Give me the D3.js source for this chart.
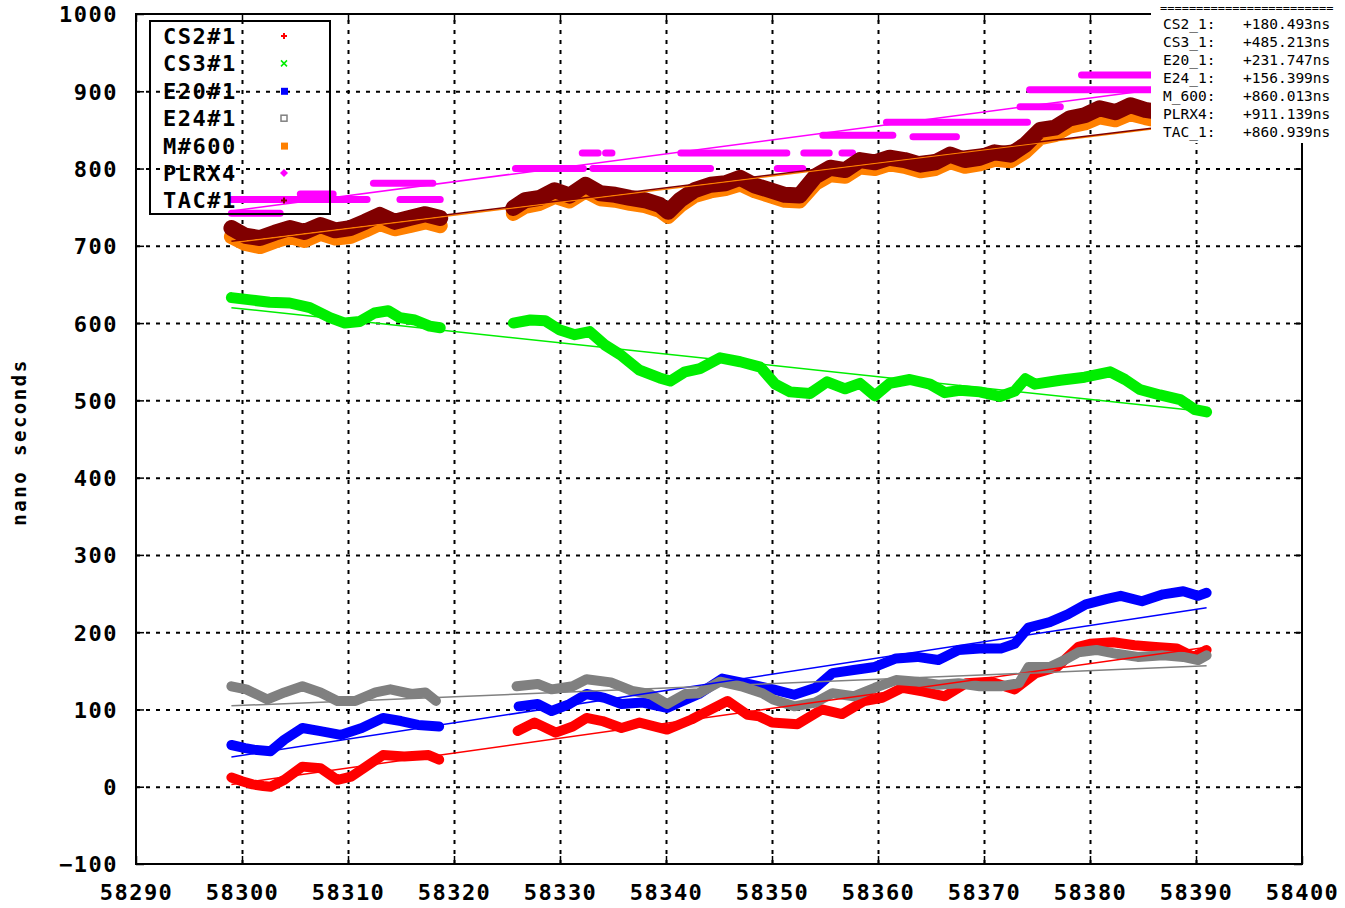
<!DOCTYPE html>
<html>
<head>
<meta charset="utf-8">
<script src="https://cdn.jsdelivr.net/npm/d3@7/dist/d3.min.js"></script>
<style>
body { margin: 0; background: #fff; }
text { font-family: "DejaVu Sans Mono", monospace; }
</style>
</head>
<body>
<svg id="chart"></svg>
<script>
// tick values
const xTicks = [58290, 58300, 58310, 58320, 58330, 58340, 58350, 58360, 58370, 58380, 58390, 58400];
const yTicks = [-100, 0, 100, 200, 300, 400, 500, 600, 700, 800, 900, 1000];

// series, [MJD, ns]; null marks the gap in the data
const cs2 = [[58299,12],[58300,7],[58301,3],[58302,1],[58302.7,0],[58304,9],[58305.7,26],[58307.4,24],[58309,9],[58310.3,13],[58311.7,26],[58313.3,41],[58315.3,39],[58317.6,41],[58318.6,35],
  [58322,null],
  [58326,72],[58327.6,83],[58329.6,70],[58331.2,78],[58332.5,89],[58334,85],[58335.8,76],[58337.5,83],[58340.1,74],[58342.4,87],[58343.5,95],[58345.8,111],[58347.7,93],[58348.8,91],[58350,83],[58352.4,81],[58354.7,100],[58356.6,94],[58358.7,111],[58360.4,115],[58362.3,128],[58364.3,123],[58366.3,117],[58368.3,134],[58370.6,136],[58372.9,126],[58374.9,147],[58376.9,155],[58378.9,181],[58380,185],[58382.2,187],[58384.2,183],[58386.2,181],[58388.2,179],[58389.8,168],[58391,177]];

const cs3 = [[58299,633],[58300.8,630],[58302.6,627],[58304.5,626],[58306.4,620],[58308.3,607],[58309.7,600],[58311.1,602],[58312.5,613],[58313.8,616],[58314.9,607],[58316.3,604],[58317.7,596],[58318.7,594],
  [58322,null],
  [58325.6,600],[58327.2,604],[58328.6,603],[58330,591],[58331.4,585],[58332.8,589],[58334.2,572],[58335.7,559],[58337.5,539],[58339.4,529],[58340.4,525],[58341.8,537],[58343.2,541],[58345.1,555],[58347,550],[58348.9,543],[58350.3,521],[58351.7,511],[58353.6,509],[58355.2,524],[58356.9,515],[58358.3,522],[58359.7,506],[58361.1,522],[58363,527],[58364.9,521],[58366.3,510],[58367.7,513],[58369.6,511],[58371.5,505],[58372.9,512],[58373.9,528],[58374.8,521],[58377.2,526],[58379.5,530],[58381.9,537],[58383.3,527],[58384.7,514],[58386.6,507],[58388.5,501],[58389.9,488],[58391,485]];

const e20 = [[58299,54],[58300.3,50],[58301.1,48],[58302.7,46],[58304,61],[58305.7,76],[58307.4,72],[58309.3,67],[58311.3,76],[58313.3,89],[58315,85],[58316.6,80],[58318.6,78],
  [58322,null],
  [58326.1,104],[58327.9,107],[58329.2,98],[58330.9,107],[58332.5,120],[58334.2,115],[58335.8,107],[58337.8,109],[58340.1,102],[58343.1,120],[58345.3,140],[58348.1,132],[58350.1,126],[58352.1,119],[58354.1,128],[58355.7,147],[58357.7,151],[58359.7,155],[58361.7,166],[58363.7,168],[58365.7,164],[58367.6,177],[58369.6,179],[58371.6,179],[58372.9,185],[58374.2,206],[58376.2,213],[58377.9,223],[58379.6,236],[58381.6,243],[58382.9,247],[58384.9,240],[58386.9,249],[58388.8,253],[58390.2,247],[58391,251]];

const e24 = [[58299,130],[58300.4,126],[58302.4,113],[58304,122],[58305.7,130],[58307.4,122],[58309,111],[58310.7,111],[58312.6,122],[58314,126],[58316,120],[58317.3,122],[58318.3,111],
  [58322,null],
  [58325.9,130],[58327.9,133],[58329.2,126],[58331.2,130],[58332.5,139],[58334.8,135],[58336.8,124],[58338.5,120],[58340.1,107],[58341.8,120],[58343.1,121],[58345.1,136],[58347.1,130],[58349.1,121],[58350.1,113],[58352.1,104],[58354.1,109],[58355.7,121],[58357.7,117],[58359.7,128],[58361.7,138],[58363.7,136],[58365.7,132],[58367.6,134],[58369.6,130],[58371.6,130],[58373.3,134],[58374.2,155],[58376.2,155],[58377.6,164],[58378.9,174],[58380.6,177],[58382.5,172],[58384.5,168],[58386.9,170],[58388.8,168],[58390.2,164],[58391,170]];

const m600 = [[58299,712],[58300.3,703],[58301.7,699],[58303.1,706],[58304.5,712],[58305.9,707],[58307.4,716],[58308.8,710],[58310.2,712],[58311.6,720],[58313,729],[58314.4,722],[58315.8,726],[58317.3,731],[58318.7,726],
  [58322,null],
  [58325.6,742],[58326.7,751],[58328.1,755],[58329.5,764],[58330.9,758],[58332.4,771],[58333.8,761],[58335.2,759],[58336.6,755],[58338,752],[58339.4,746],[58340.2,738],[58341.3,752],[58342.7,765],[58344.2,771],[58345.6,774],[58347,780],[58348.4,771],[58349.8,765],[58351.2,759],[58352.6,758],[58354.1,781],[58355.5,792],[58356.9,790],[58358.3,802],[58359.7,800],[58361.1,806],[58362.5,803],[58364,797],[58365.4,800],[58366.8,809],[58368.2,803],[58369.6,806],[58371,812],[58372.5,810],[58373.9,822],[58375.3,840],[58376.7,844],[58378.1,855],[58379.5,859],[58380.9,867],[58382.4,863],[58383.8,871],[58385.2,866],[58386.6,862],[58388.5,865],[58391,860]];

const tac = [[58299,723],[58300.3,713],[58301.7,710],[58303.1,717],[58304.5,723],[58305.9,718],[58307.4,727],[58308.8,720],[58310.2,723],[58311.6,731],[58313,740],[58314.4,731],[58315.8,736],[58317.3,741],[58318.7,736],
  [58322,null],
  [58325.6,749],[58326.7,759],[58328.1,762],[58329.5,772],[58330.9,765],[58332.4,779],[58333.8,768],[58335.2,766],[58336.6,762],[58338,759],[58339.4,753],[58340.2,744],[58341.3,759],[58342.7,772],[58344.2,779],[58345.6,781],[58347,788],[58348.4,778],[58349.8,772],[58351.2,766],[58352.6,765],[58354.1,790],[58355.5,801],[58356.9,798],[58358.3,811],[58359.7,808],[58361.1,814],[58362.5,811],[58364,805],[58365.4,808],[58366.8,818],[58368.2,811],[58369.6,814],[58371,821],[58372.5,818],[58373.9,831],[58375.3,850],[58376.7,853],[58378.1,865],[58379.5,869],[58380.9,878],[58382.4,873],[58383.8,882],[58385.2,876],[58386.6,873],[58388.5,876],[58391,873]];

// PLRX4 is quantised: runs of [from, to, ns]
const plrx4 = [[58299,58303.6,742],[58299,58311.8,760],[58305.5,58308.6,767],[58312.4,58318,781],[58314.9,58318.7,760],
  [58325.8,58332.2,800],[58333.1,58344.2,800],[58332.1,58333.6,820],[58334.3,58334.9,820],[58341.4,58351.4,820],
  [58350.5,58352.9,800],[58353,58355.4,820],[58356.6,58357.6,820],[58354.8,58361.4,843],[58363.3,58367.4,841],
  [58360.8,58374.1,860],[58373.4,58377.2,880],[58374.3,58391,902],[58379.2,58391,921]];

// linear fits, value at first and last day
const fitDays = [58299, 58391];
const fitStart = { cs2: 3, cs3: 620, e20: 38.5, e24: 104.7, m600: 704, plrx4: 745, tac: 706 };
const fitEnd = { cs2: 180.493, cs3: 485.213, e20: 231.747, e24: 156.399, m600: 860.013, plrx4: 911.139, tac: 860.939 };

const legendNames = ['CS2#1', 'CS3#1', 'E20#1', 'E24#1', 'M#600', 'PLRX4', 'TAC#1'];
const boxNames = ['CS2_1:', 'CS3_1:', 'E20_1:', 'E24_1:', 'M_600:', 'PLRX4:', 'TAC_1:'];
const keys = ['cs2', 'cs3', 'e20', 'e24', 'm600', 'plrx4', 'tac'];
const colors = { cs2: '#ff0000', cs3: '#00ee00', e20: '#0000ff', e24: '#808080', m600: '#ff8000', plrx4: '#ff00ff', tac: '#800000' };

const width = 1345, height = 908;
const margin = { top: 14, right: 43, bottom: 44, left: 136 };
const innerW = width - margin.left - margin.right;
const innerH = height - margin.top - margin.bottom;

const svg = d3.select('#chart').attr('width', width).attr('height', height);
const chart = svg.append('g').attr('transform', `translate(${margin.left},${margin.top})`);

const x = d3.scaleLinear().domain([58290, 58400]).range([0, innerW]);
const y = d3.scaleLinear().domain([-100, 1000]).range([innerH, 0]);

// grid
chart.append('g')
    .attr('transform', `translate(0,${innerH})`)
    .call(d3.axisBottom(x).tickValues(xTicks.slice(1, -1)).tickSize(-innerH).tickFormat(''))
    .call(g => g.select('.domain').remove())
    .selectAll('line').attr('stroke', '#000').attr('stroke-width', 2).attr('stroke-dasharray', '4,6');
chart.append('g')
    .call(d3.axisLeft(y).tickValues(yTicks.slice(1, -1)).tickSize(-innerW).tickFormat(''))
    .call(g => g.select('.domain').remove())
    .selectAll('line').attr('stroke', '#000').attr('stroke-width', 2).attr('stroke-dasharray', '4,6');

// tick labels
const xa = chart.append('g')
    .attr('transform', `translate(0,${innerH})`)
    .call(d3.axisBottom(x).tickValues(xTicks).tickSize(0).tickFormat(d3.format('d')));
xa.select('.domain').remove();
xa.selectAll('text').attr('y', 36).attr('dy', null)
    .style('font-size', '22px').style('font-weight', 'bold').style('letter-spacing', '1.5px').attr('fill', '#000');

const ya = chart.append('g')
    .call(d3.axisLeft(y).tickValues(yTicks).tickSize(0).tickPadding(18).tickFormat(d3.format('d')));
ya.select('.domain').remove();
ya.selectAll('text').attr('dy', '0.36em')
    .style('font-size', '22px').style('font-weight', 'bold').style('letter-spacing', '1.5px').attr('fill', '#000');

// inward tick marks on all sides
chart.append('g').attr('transform', `translate(0,${innerH})`)
    .call(d3.axisBottom(x).tickValues(xTicks).tickSize(-8).tickFormat(''))
    .call(g => g.select('.domain').remove()).selectAll('line').attr('stroke-width', 1.5);
chart.append('g')
    .call(d3.axisTop(x).tickValues(xTicks).tickSize(-8).tickFormat(''))
    .call(g => g.select('.domain').remove()).selectAll('line').attr('stroke-width', 1.5);
chart.append('g')
    .call(d3.axisLeft(y).tickValues(yTicks).tickSize(-8).tickFormat(''))
    .call(g => g.select('.domain').remove()).selectAll('line').attr('stroke-width', 1.5);
chart.append('g').attr('transform', `translate(${innerW},0)`)
    .call(d3.axisRight(y).tickValues(yTicks).tickSize(-8).tickFormat(''))
    .call(g => g.select('.domain').remove()).selectAll('line').attr('stroke-width', 1.5);

// legend box (drawn under the data)
const legend = svg.append('g');
legend.append('rect').attr('x', 150).attr('y', 21).attr('width', 180).attr('height', 193)
    .attr('fill', 'none').attr('stroke', '#000').attr('stroke-width', 2);
legendNames.forEach((name, i) => {
    const cy = 36 + i * 27.4;
    legend.append('text').attr('x', 163).attr('y', cy + 8).text(name)
        .style('font-size', '22px').style('font-weight', 'bold').style('letter-spacing', '1.5px');
    const c = colors[keys[i]];
    const mx = 284;
    if (i === 0 || i === 6) {
        legend.append('path').attr('d', `M${mx-3},${cy}h6M${mx},${cy-3}v6`).attr('stroke', c).attr('stroke-width', 2);
    } else if (i === 1) {
        legend.append('path').attr('d', `M${mx-3},${cy-3}l6,6M${mx-3},${cy+3}l6,-6`).attr('stroke', c).attr('stroke-width', 1.5);
    } else if (i === 3) {
        legend.append('rect').attr('x', mx - 3).attr('y', cy - 3).attr('width', 6).attr('height', 6)
            .attr('fill', 'none').attr('stroke', c).attr('stroke-width', 1.5);
    } else if (i === 5) {
        legend.append('path').attr('d', `M${mx},${cy-4}l4,4l-4,4l-4,-4z`).attr('fill', c);
    } else {
        legend.append('rect').attr('x', mx - 3).attr('y', cy - 3).attr('width', 7).attr('height', 7).attr('fill', c);
    }
});

// data bands
const line = d3.line()
    .defined(d => d[1] !== null)
    .x(d => x(d[0]))
    .y(d => y(d[1]));

const series = [
    { key: 'cs2', data: cs2, w: 10 },
    { key: 'cs3', data: cs3, w: 11 },
    { key: 'e20', data: e20, w: 10 },
    { key: 'e24', data: e24, w: 10 },
    { key: 'm600', data: m600, w: 15 }
];
series.forEach(s => {
    chart.append('path')
        .attr('d', line(s.data))
        .attr('fill', 'none')
        .attr('stroke', colors[s.key])
        .attr('stroke-width', s.w)
        .attr('stroke-linejoin', 'round')
        .attr('stroke-linecap', 'round');
});

chart.append('g').selectAll('line')
    .data(plrx4)
    .join('line')
    .attr('x1', d => x(d[0]))
    .attr('x2', d => x(d[1]))
    .attr('y1', d => y(d[2]))
    .attr('y2', d => y(d[2]))
    .attr('stroke', colors.plrx4)
    .attr('stroke-width', 7)
    .attr('stroke-linecap', 'round');

chart.append('path')
    .attr('d', line(tac))
    .attr('fill', 'none')
    .attr('stroke', colors.tac)
    .attr('stroke-width', 16)
    .attr('stroke-linejoin', 'round')
    .attr('stroke-linecap', 'round');

// fit lines
keys.forEach(k => {
    chart.append('line')
        .attr('x1', x(fitDays[0])).attr('x2', x(fitDays[1]))
        .attr('y1', y(fitStart[k])).attr('y2', y(fitEnd[k]))
        .attr('stroke', colors[k])
        .attr('stroke-width', 1.5);
});

// border
chart.append('rect').attr('width', innerW).attr('height', innerH)
    .attr('fill', 'none').attr('stroke', '#000').attr('stroke-width', 2);

// y title
svg.append('text')
    .attr('transform', 'translate(26,442) rotate(-90)')
    .attr('text-anchor', 'middle')
    .style('font-size', '19px').style('font-weight', 'bold').style('letter-spacing', '2.5px')
    .text('nano seconds');

// summary box in the corner
const box = svg.append('g');
box.append('rect').attr('x', 1151).attr('y', 0).attr('width', 194).attr('height', 143).attr('fill', '#fff');
box.append('text').attr('x', 1160).attr('y', 12).style('font-size', '12px').text('========================');
boxNames.forEach((name, i) => {
    const by = 29 + i * 18;
    box.append('text').attr('x', 1163).attr('y', by).style('font-size', '14.5px').text(name);
    box.append('text').attr('x', 1243).attr('y', by).style('font-size', '14.5px')
        .text('+' + fitEnd[keys[i]].toFixed(3) + 'ns');
});
</script>
</body>
</html>
